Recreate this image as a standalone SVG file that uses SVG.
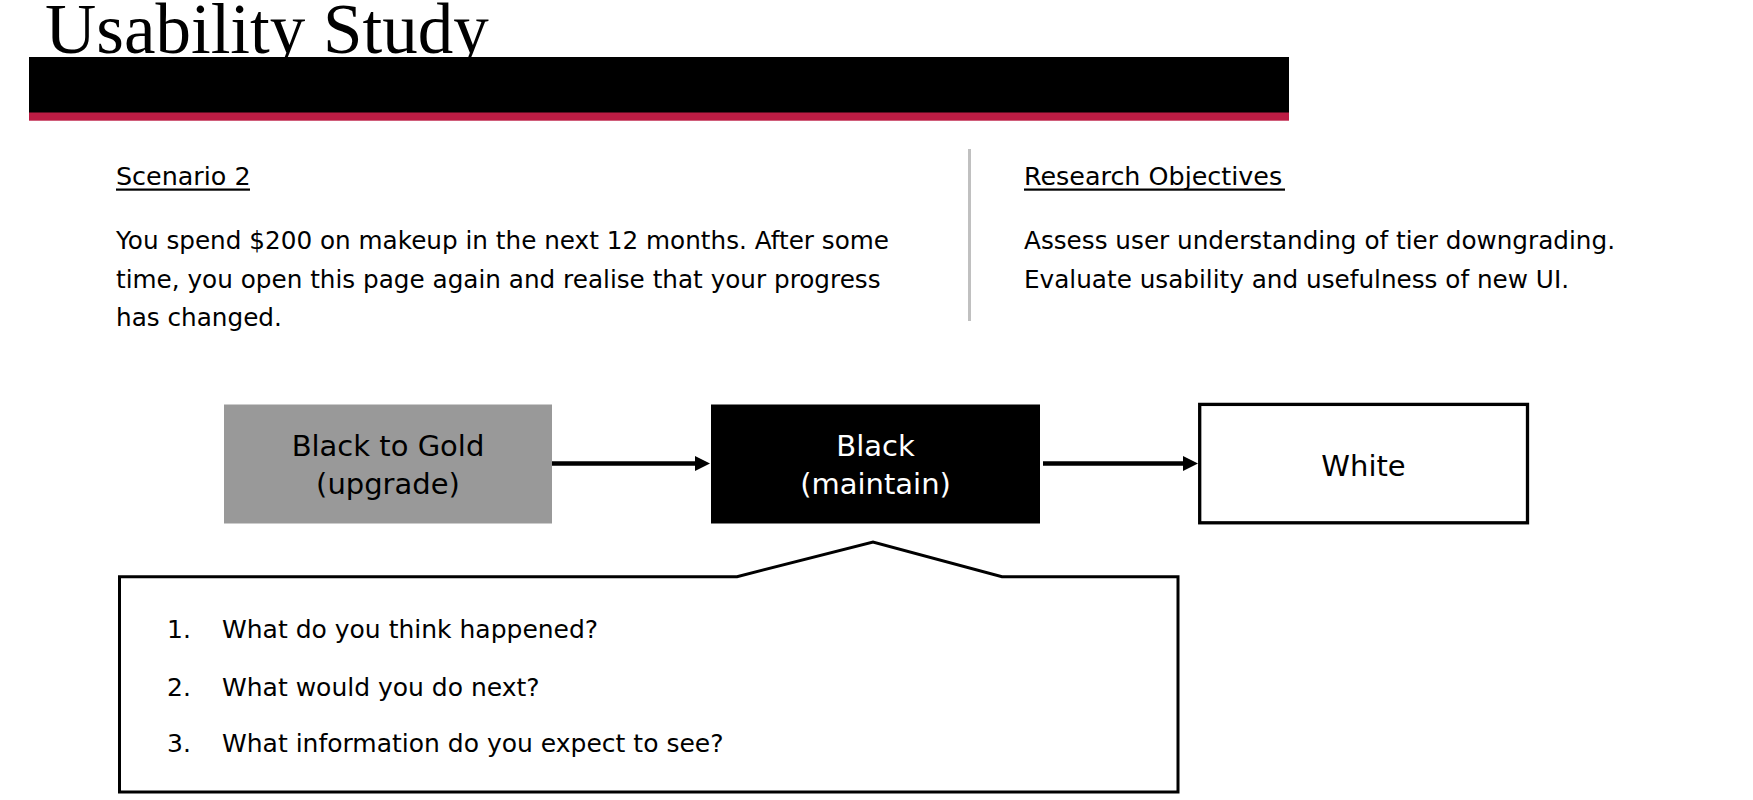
<svg xmlns="http://www.w3.org/2000/svg" width="1753" height="800" viewBox="0 0 1753 800">
  <style>
    .sans { font-family: "DejaVu Sans", "Liberation Sans", sans-serif; fill: #000; }
    .title { font-family: "Liberation Serif", "DejaVu Serif", serif; font-size: 71px; fill: #000; }
    .head { font-size: 25.4px; }
    .body { font-size: 24.7px; }
    .node { font-size: 29px; text-anchor: middle; }
    .list { font-size: 25px; }
    .conn { stroke: #000; stroke-width: 4.5; fill: none; }
  </style>
  <defs>
    <marker id="arrow" markerUnits="userSpaceOnUse" markerWidth="16" markerHeight="16" refX="5" refY="7.5" orient="auto">
      <path d="M0,0 L15,7.5 L0,15 Z" fill="#000"/>
    </marker>
  </defs>
  <rect x="0" y="0" width="1753" height="800" fill="#fff"/>

  <g id="header">
    <text class="title" x="45" y="53">Usability Study</text>
    <rect x="29" y="57" width="1260" height="56" fill="#000"/>
    <rect x="29" y="112.5" width="1260" height="8.2" fill="#BC1C44"/>
  </g>

  <g id="scenario">
    <text class="sans head" x="116" y="185">Scenario 2</text>
    <rect x="116" y="188.5" width="134" height="2.2" fill="#000"/>
    <text class="sans body" x="116" y="249">You spend $200 on makeup in the next 12 months. After some</text>
    <text class="sans body" x="116" y="287.5">time, you open this page again and realise that your progress</text>
    <text class="sans body" x="116" y="326">has changed.</text>
  </g>

  <line id="divider" x1="969.5" y1="149" x2="969.5" y2="321" stroke="#C0C0C0" stroke-width="3"/>

  <g id="objectives">
    <text class="sans head" x="1024" y="185">Research Objectives</text>
    <rect x="1024" y="188.5" width="261" height="2.2" fill="#000"/>
    <text class="sans body" x="1024" y="249">Assess user understanding of tier downgrading.</text>
    <text class="sans body" x="1024" y="287.5">Evaluate usability and usefulness of new UI.</text>
  </g>

  <g id="node-upgrade">
    <rect x="224" y="404.5" width="328" height="119" fill="#999999"/>
    <text class="sans node" x="388" y="455.5">Black to Gold</text>
    <text class="sans node" x="388" y="494">(upgrade)</text>
  </g>

  <g id="node-maintain">
    <rect x="711" y="404.5" width="329" height="119" fill="#000"/>
    <text class="sans node" x="875.5" y="455.5" style="fill:#fff">Black</text>
    <text class="sans node" x="875.5" y="494" style="fill:#fff">(maintain)</text>
  </g>

  <g id="node-white">
    <rect x="1199.7" y="404.4" width="327.8" height="118.4" fill="#fff" stroke="#000" stroke-width="3.3"/>
    <text class="sans node" x="1363.5" y="475.5">White</text>
  </g>

  <g id="connectors">
    <line class="conn" x1="552" y1="463.5" x2="700" y2="463.5" marker-end="url(#arrow)"/>
    <line class="conn" x1="1043" y1="463.5" x2="1188" y2="463.5" marker-end="url(#arrow)"/>
  </g>

  <g id="callout">
    <path d="M119.5,576.7 H737 L873,542 L1002,576.7 H1178 V792 H119.5 Z" fill="#fff" stroke="#000" stroke-width="3"/>
    <text class="sans list" x="167" y="637.5">1.</text>
    <text class="sans list" x="222" y="637.5">What do you think happened?</text>
    <text class="sans list" x="167" y="695.5">2.</text>
    <text class="sans list" x="222" y="695.5">What would you do next?</text>
    <text class="sans list" x="167" y="752">3.</text>
    <text class="sans list" x="222" y="752">What information do you expect to see?</text>
  </g>
</svg>
